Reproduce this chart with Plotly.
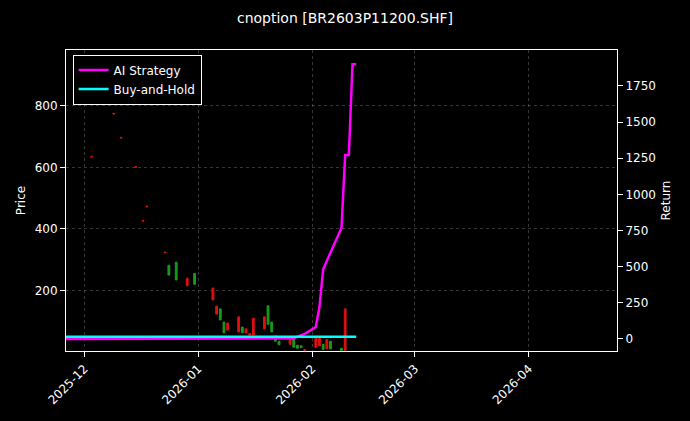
import plotly.graph_objects as go

# Candles
c_dates = ["2025-12-03","2025-12-08","2025-12-09","2025-12-11","2025-12-15","2025-12-17","2025-12-18",
           "2025-12-23","2025-12-24","2025-12-26","2025-12-29","2025-12-31",
           "2026-01-05","2026-01-06","2026-01-07","2026-01-08","2026-01-09","2026-01-12","2026-01-13",
           "2026-01-14","2026-01-15","2026-01-16","2026-01-19","2026-01-20","2026-01-21","2026-01-22",
           "2026-01-23","2026-01-26","2026-01-27","2026-01-28","2026-01-29","2026-01-30",
           "2026-02-02","2026-02-03","2026-02-04","2026-02-05","2026-02-06","2026-02-09","2026-02-10"]
c_open  = [636,805,776,698,603,428,474,325,250,234,240,220,208,149,104,62,94,114,62,75,60,110,114,90,65,35,23,40,15,12,14,8,45,50,8,40,10,4,140]
c_close = [634,803,774,696,601,426,472,323,282,292,215,255,169,123,140,97,71,65,81,62,55,55,75,150,97,52,35,25,45,22,20,5,15,20,25,10,35,12,5]

# Returns
s_dates = ["2025-11-26","2026-01-05","2026-01-27","2026-01-30","2026-02-02","2026-02-03","2026-02-04",
           "2026-02-05","2026-02-06","2026-02-09","2026-02-10","2026-02-11","2026-02-12","2026-02-13"]
ai_ret  = [0,0,5,35,83,221,480,540,600,767,1272,1272,1900,1900]
bh_dates = ["2025-11-26","2026-02-13"]
bh_ret   = [15,15]

hi = [max(o, c) for o, c in zip(c_open, c_close)]
lo = [min(o, c) for o, c in zip(c_open, c_close)]

fig = go.Figure()
fig.add_trace(go.Candlestick(x=c_dates, open=c_open, high=hi, low=lo, close=c_close,
    increasing=dict(line=dict(color="#1a9a1a", width=1), fillcolor="#1a9a1a"),
    decreasing=dict(line=dict(color="#e01010", width=1), fillcolor="#e01010"),
    showlegend=False, whiskerwidth=0))
fig.add_trace(go.Scatter(x=s_dates, y=ai_ret, yaxis="y2", mode="lines", name="AI Strategy",
    line=dict(color="#ff00ff", width=2.5)))
fig.add_trace(go.Scatter(x=bh_dates, y=bh_ret, yaxis="y2", mode="lines", name="Buy-and-Hold",
    line=dict(color="#00ffff", width=2.5)))

grid = dict(showgrid=True, gridcolor="rgba(120,120,120,0.45)", griddash="dot", gridwidth=0.6)
fig.update_layout(
    width=690, height=421, paper_bgcolor="black", plot_bgcolor="black",
    font=dict(family="DejaVu Sans", color="white", size=12),
    title=dict(text="cnoption [BR2603P11200.SHF]", x=0.5, xanchor="center", y=0.957, yanchor="middle", font=dict(size=14)),
    margin=dict(l=66, r=73, t=50, b=70, autoexpand=False),
    xaxis=dict(type="date", range=["2025-11-26", "2026-04-25"], tickvals=["2025-12-01","2026-01-01","2026-02-01","2026-03-01","2026-04-01"],
               ticktext=["2025-12","2026-01","2026-02","2026-03","2026-04"], tickangle=-45, automargin=False,
               rangeslider=dict(visible=False), showline=True, linecolor="white", mirror=True,
               ticks="outside", tickcolor="white", zeroline=False, **grid),
    yaxis=dict(title=dict(text="Price", standoff=6, font=dict(size=12)), range=[3, 982], tickvals=[200,400,600,800], ticks="outside", tickcolor="white",
               showline=True, linecolor="white", zeroline=False, automargin=False, **grid),
    yaxis2=dict(title=dict(text="Return", standoff=6, font=dict(size=12)), overlaying="y", side="right", range=[-83, 1998],
                tickvals=list(range(0, 1751, 250)), ticks="outside", tickcolor="white", automargin=False,
                showline=True, linecolor="white", zeroline=False, showgrid=False),
    legend=dict(x=0.012, y=0.985, xanchor="left", yanchor="top", bgcolor="black",
                bordercolor="white", borderwidth=1, font=dict(size=12)),
)
fig.write_html("out.html", config={"displayModeBar": False},
               post_script="document.body.style.margin='0';document.body.style.background='black';")
